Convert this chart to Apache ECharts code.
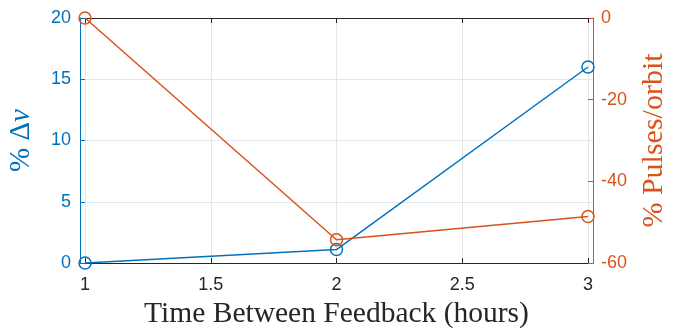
<!DOCTYPE html>
<html>
<head>
<meta charset="utf-8">
<script src="https://cdn.jsdelivr.net/npm/echarts@6/dist/echarts.min.js"></script>
<style>html,body{margin:0;padding:0;background:#fff}#c{width:675px;height:329px}</style>
</head>
<body>
<div id="c"></div>
<script>
const hours = [1, 2, 3];
const deltaV = [0, 1.1, 16.0];
const pulses = [0, -54.3, -48.6];
const xTicks = [1, 1.5, 2, 2.5, 3];

const blue = '#0072BD', orange = '#D95319', dark = '#262626';
const chart = echarts.init(document.getElementById('c'));
chart.setOption({
  animation: false,
  grid: {left: 80, top: 18, width: 513, height: 245, containLabel: false, outerBoundsMode: 'none'},
  xAxis: [{
    type: 'value', min: 0.98, max: 3.02, position: 'bottom',
    name: 'Time Between Feedback (hours)', nameLocation: 'middle', nameGap: 34,
    nameTextStyle: {fontFamily: 'Liberation Serif', fontSize: 29.5, color: dark},
    axisLine: {show: true, onZero: false, lineStyle: {color: dark, width: 1}},
    axisTick: {show: true, inside: true, length: 5, customValues: xTicks, lineStyle: {color: dark}},
    axisLabel: {customValues: xTicks, margin: 13, fontFamily: 'Liberation Sans', fontSize: 18, color: dark,
      formatter: v => String(v)},
    splitLine: {show: true, lineStyle: {color: '#e6e6e6', width: 1}}
  }, {
    type: 'value', min: 0.98, max: 3.02, position: 'top',
    axisLine: {show: true, onZero: false, lineStyle: {color: dark, width: 1}},
    axisTick: {show: true, inside: true, length: 5, customValues: xTicks, lineStyle: {color: dark}},
    axisLabel: {show: false},
    splitLine: {show: false}
  }],
  yAxis: [{
    type: 'value', min: 0, max: 20, interval: 5, position: 'left',
    name: '{a|% Δ}{b|v}', nameLocation: 'middle', nameGap: 44, nameRotate: 90,
    nameTextStyle: {color: blue, rich: {
      a: {fontFamily: 'Liberation Serif', fontSize: 29, color: blue},
      b: {fontFamily: 'Liberation Serif', fontSize: 29, fontStyle: 'italic', color: blue}}},
    axisLine: {show: true, onZero: false, lineStyle: {color: blue, width: 1}},
    axisTick: {show: true, inside: true, length: 5, lineStyle: {color: blue}},
    axisLabel: {margin: 9, fontFamily: 'Liberation Sans', fontSize: 18, color: blue},
    splitLine: {show: true, lineStyle: {color: '#dde8f2', width: 1}}
  }, {
    type: 'value', min: -60, max: 0, interval: 20, position: 'right',
    name: '% Pulses/orbit', nameLocation: 'middle', nameGap: 46, nameRotate: 90,
    nameTextStyle: {fontFamily: 'Liberation Serif', fontSize: 30, color: orange},
    axisLine: {show: true, onZero: false, lineStyle: {color: orange, width: 1}},
    axisTick: {show: true, inside: true, length: 5, lineStyle: {color: orange}},
    axisLabel: {margin: 8, fontFamily: 'Liberation Sans', fontSize: 18, color: orange},
    splitLine: {show: false}
  }],
  series: [{
    type: 'line', xAxisIndex: 0, yAxisIndex: 0,
    data: hours.map((h, i) => [h, deltaV[i]]),
    lineStyle: {color: blue, width: 1.5}, itemStyle: {color: 'rgba(0,0,0,0)', borderColor: blue, borderWidth: 1.5},
    symbol: 'circle', symbolSize: 12, clip: false, z: 3
  }, {
    type: 'line', xAxisIndex: 0, yAxisIndex: 1,
    data: hours.map((h, i) => [h, pulses[i]]),
    lineStyle: {color: orange, width: 1.5}, itemStyle: {color: 'rgba(0,0,0,0)', borderColor: orange, borderWidth: 1.5},
    symbol: 'circle', symbolSize: 12, clip: false, z: 4
  }]
});
</script>
</body>
</html>
